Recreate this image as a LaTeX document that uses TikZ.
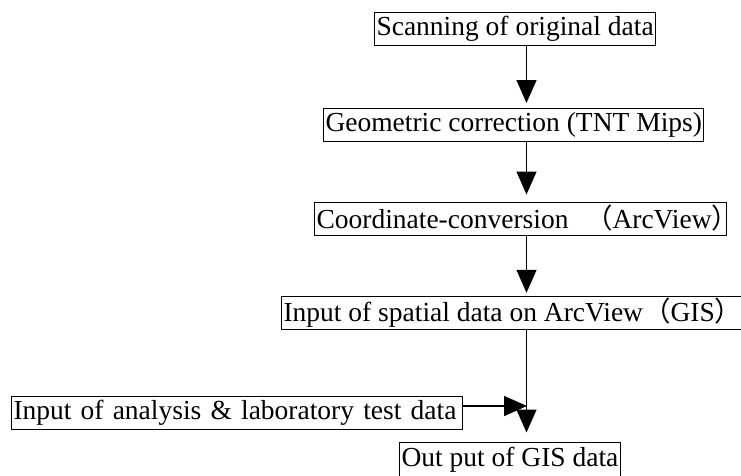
\documentclass[tikz,border=0pt]{standalone}
\usepackage{fontspec}
\setmainfont{Liberation Serif}
\newfontfamily\cjk{Noto Sans CJK JP}
\usetikzlibrary{arrows.meta}
\begin{document}
\begin{tikzpicture}[x=1pt, y=-1pt, font=\fontsize{27.5}{30}\selectfont, line join=round,
		box/.style={draw, line width=1pt, anchor=west, inner sep=2pt, minimum height=33pt},
		flow/.style={line width=1.4pt, -{Triangle[width=20pt,length=23pt]}}]
	\useasboundingbox (0,0) rectangle (741,475);
	\path (526.5,0) coordinate (axis)
	(527,406) coordinate (join);
	% boxes of the chain
	\node[box] (scan) at (374,28.5) {Scanning of original data};
	\node[box] (geo) at (323,125) {Geometric correction (TNT Mips)};
	\node[box] (coord) at (314,218.5) {Coordinate-conversion\hspace{.6em}{\cjk （}ArcView\makebox[.45em][l]{\cjk ）}};
	\node[box] (spatial) at (281,313) {Input of spatial data on ArcView{\cjk （}GIS{\cjk ）}};
	\node[box, text width=447pt, align=left] (lab) at (11,413) {Input of analysis \& laboratory test data};
	\node[box, minimum height=36pt] (out) at (399,460) {Out put of GIS data};
	% arrows
	\draw[flow, shorten >=5pt] (scan.south -| axis) -- (geo.north -| axis);
	\draw[flow, shorten >=7pt] (geo.south -| axis) -- (coord.north -| axis);
	\draw[flow, shorten >=3pt] (coord.south -| axis) -- (spatial.north -| axis);
	\draw[flow, shorten >=9pt] (spatial.south -| axis) -- (out.north -| axis);
	\draw[flow] (lab.east |- join) -- (join);
\end{tikzpicture}
\end{document}
